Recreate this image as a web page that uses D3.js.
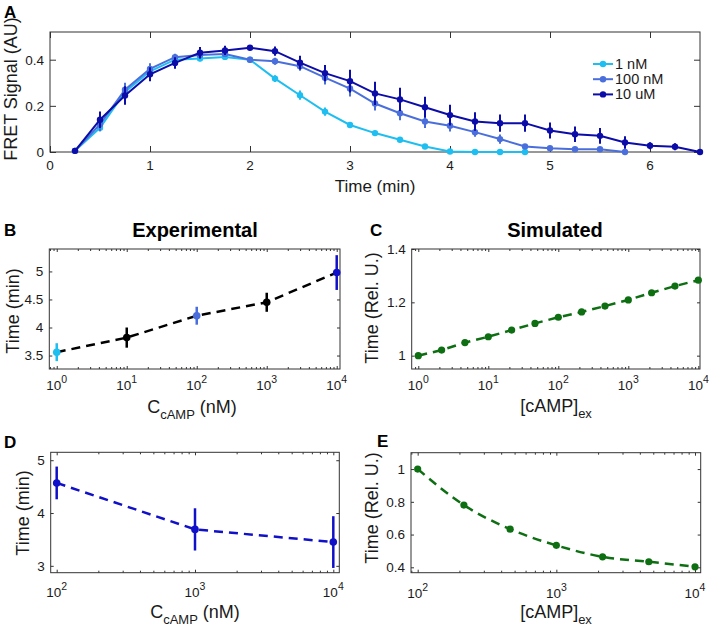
<!DOCTYPE html>
<html>
<head>
<meta charset="utf-8">
<script src="https://cdn.jsdelivr.net/npm/d3@7/dist/d3.min.js"></script>
<style>
  html, body { margin: 0; padding: 0; background: #fff; }
  svg { display: block; font-family: "Liberation Sans", Arial, Helvetica, sans-serif; }
</style>
</head>
<body>
<svg id="chart" width="709" height="630"></svg>
<script>
// ---------------- DATA ----------------
// Panel A: FRET signal time courses
const timeA1 = [0.25,0.5,0.75,1,1.25,1.5,1.75,2,2.25,2.5,2.75,3,3.25,3.5,3.75,4,4.25,4.5,4.75];
const fret1nM = [0.005,0.105,0.26,0.35,0.40,0.405,0.412,0.40,0.318,0.246,0.175,0.117,0.082,0.053,0.024,0.002,0,0,0];
const err1nM  = [0.005,0.015,0.02,0.02,0.015,0.012,0.01,0.01,0.015,0.02,0.018,0.012,0.01,0.008,0.006,0.003,0.002,0.002,0.002];

const timeA2 = [0.25,0.5,0.75,1,1.25,1.5,1.75,2,2.25,2.5,2.75,3,3.25,3.5,3.75,4,4.25,4.5,4.75,5,5.25,5.5,5.75];
const fret100nM = [0.005,0.12,0.27,0.36,0.411,0.42,0.425,0.40,0.393,0.372,0.322,0.275,0.21,0.168,0.132,0.114,0.086,0.056,0.024,0.016,0.012,0.012,0];
const err100nM  = [0.005,0.03,0.03,0.025,0.015,0.015,0.01,0.012,0.015,0.02,0.03,0.035,0.03,0.03,0.028,0.025,0.02,0.02,0.01,0.008,0.006,0.006,0.003];

const timeA3 = [0.25,0.5,0.75,1,1.25,1.5,1.75,2,2.25,2.5,2.75,3,3.25,3.5,3.75,4,4.25,4.5,4.75,5,5.25,5.5,5.75,6,6.25,6.5];
const fret10uM = [0.005,0.14,0.245,0.337,0.386,0.43,0.44,0.452,0.437,0.387,0.342,0.307,0.254,0.228,0.194,0.16,0.132,0.125,0.125,0.093,0.077,0.07,0.041,0.027,0.023,0];
const err10uM  = [0.005,0.036,0.04,0.03,0.025,0.025,0.02,0.01,0.02,0.03,0.035,0.049,0.05,0.05,0.045,0.045,0.04,0.037,0.037,0.035,0.034,0.034,0.027,0.015,0.015,0.003];

const legendLabels = ["1 nM", "100 nM", "10 uM"];
const xTicksA = [0,1,2,3,4,5,6];
const yTicksA = [0,0.2,0.4];

// Panel B: experimental
const concB = [1,10,100,1000,10000];
const timeB = [3.56,3.82,4.21,4.45,4.98];
const errB  = [0.16,0.18,0.16,0.17,0.31];
const yTicksB = [3.5,4,4.5,5];

// Panel C: simulated
const concC = [1,2.154,4.642,10,21.54,46.42,100,215.4,464.2,1000,2154,4642,10000];
const relC  = [1.0,1.021,1.049,1.071,1.096,1.121,1.144,1.164,1.186,1.209,1.236,1.261,1.283];
const yTicksC = [1,1.2,1.4];

// Panel D
const concD = [100,1000,10000];
const timeD = [4.57,3.69,3.45];
const errD  = [0.31,0.40,0.49];
const yTicksD = [3,4,5];

// Panel E
const concE = [100,215.4,464.2,1000,2154,4642,10000];
const relE  = [1.0,0.78,0.633,0.534,0.464,0.434,0.403];
const yTicksE = [0.4,0.6,0.8,1];

const decades04 = [1,10,100,1000,10000];
const decades24 = [100,1000,10000];

// ---------------- STYLE ----------------
const C_CYAN = "#1fbef0";
const C_MID  = "#4a6fdc";
const C_DARK = "#0c0ca8";
const C_BLUE = "#1010c8";
const C_GREEN = "#0d6e12";
const TXT = "#1a1a1a";
const FRAME = "#333";
const TICKFS = 13.5;

const svg = d3.select("#chart");

function makePanel(o) {
  const g = svg.append("g");
  const x = o.xlog ? d3.scaleLog().domain(o.xd).range([o.x0, o.x1])
                   : d3.scaleLinear().domain(o.xd).range([o.x0, o.x1]);
  const y = d3.scaleLinear().domain(o.yd).range([o.y1, o.y0]);
  const tl = o.tl;

  if (o.xlog) {
    const minors = [];
    const lo = Math.floor(Math.log10(o.xd[0])), hi = Math.ceil(Math.log10(o.xd[1]));
    for (let e = lo; e < hi; e++) for (let m = 2; m <= 9; m++) {
      const v = m * Math.pow(10, e);
      if (v > o.xd[0] && v < o.xd[1]) minors.push(v);
    }
    g.append("g").attr("transform", `translate(0,${o.y1})`)
      .call(d3.axisBottom(x).tickValues(minors).tickSize(-2).tickFormat(""))
      .call(s => s.select(".domain").remove())
      .call(s => s.selectAll("line").attr("stroke", FRAME));
    g.append("g").attr("transform", `translate(0,${o.y0})`)
      .call(d3.axisTop(x).tickValues(minors).tickSize(-2).tickFormat(""))
      .call(s => s.select(".domain").remove())
      .call(s => s.selectAll("line").attr("stroke", FRAME));
  }

  const bx = g.append("g").attr("transform", `translate(0,${o.y1})`)
    .call(d3.axisBottom(x).tickValues(o.xt).tickSize(-tl).tickFormat(() => ""));
  bx.select(".domain").remove();
  bx.selectAll("line").attr("stroke", FRAME);
  bx.selectAll("text").remove();
  const xlab = g.append("g").selectAll("text").data(o.xt).join("text")
    .attr("x", d => x(d)).attr("y", o.y1 + o.xlOff)
    .attr("text-anchor", "middle").attr("font-size", TICKFS).attr("fill", TXT);
  if (o.xlog) {
    xlab.each(function(d) {
      const t = d3.select(this);
      t.append("tspan").text("10");
      t.append("tspan").attr("font-size", 10.5).attr("dy", -7).text(Math.round(Math.log10(d)));
    });
  } else {
    xlab.text(d => d);
  }
  g.append("g").attr("transform", `translate(0,${o.y0})`)
    .call(d3.axisTop(x).tickValues(o.xt).tickSize(-tl).tickFormat(""))
    .call(s => s.select(".domain").remove())
    .call(s => s.selectAll("line").attr("stroke", FRAME));

  const ly = g.append("g").attr("transform", `translate(${o.x0},0)`)
    .call(d3.axisLeft(y).tickValues(o.yt).tickSize(-tl).tickPadding(6).tickFormat(o.yfmt));
  ly.select(".domain").remove();
  ly.selectAll("line").attr("stroke", FRAME);
  ly.selectAll("text").attr("font-size", TICKFS).attr("fill", TXT)
    .attr("font-family", "Liberation Sans, Arial, sans-serif");
  g.append("g").attr("transform", `translate(${o.x1},0)`)
    .call(d3.axisRight(y).tickValues(o.yt).tickSize(-tl).tickFormat(""))
    .call(s => s.select(".domain").remove())
    .call(s => s.selectAll("line").attr("stroke", FRAME));

  g.append("rect").attr("x", o.x0).attr("y", o.y0)
    .attr("width", o.x1 - o.x0).attr("height", o.y1 - o.y0)
    .attr("fill", "none").attr("stroke", FRAME).attr("stroke-width", 1);

  svg.append("text").attr("x", o.letterX).attr("y", o.letterY)
    .attr("font-size", 17).attr("font-weight", "bold").attr("fill", "#000").text(o.letter);

  return { g, x, y };
}

function subLabel(x, y, main, sub, rest) {
  const t = svg.append("text").attr("x", x).attr("y", y).attr("text-anchor", "middle")
    .attr("font-size", 18).attr("fill", TXT);
  t.append("tspan").text(main);
  t.append("tspan").attr("font-size", 13).attr("dy", 6).text(sub);
  if (rest) t.append("tspan").attr("dy", -6).text(rest);
  return t;
}

function yLabel(x, y, text) {
  svg.append("text").attr("transform", `translate(${x},${y}) rotate(-90)`)
    .attr("text-anchor", "middle").attr("dominant-baseline", "central")
    .attr("font-size", 18).attr("fill", TXT).text(text);
}

// ---------------- PANEL A ----------------
{
  const p = makePanel({ x0: 50, x1: 700, y0: 32, y1: 152, xd: [0, 6.5], yd: [0, 0.52],
    xt: xTicksA, yt: yTicksA, yfmt: d => d === 0 ? "0" : d3.format(".1f")(d), tl: 6, xlOff: 18,
    letter: "A", letterX: 4, letterY: 18 });
  const series = [
    { t: timeA1, v: fret1nM, e: err1nM, c: C_CYAN },
    { t: timeA2, v: fret100nM, e: err100nM, c: C_MID },
    { t: timeA3, v: fret10uM, e: err10uM, c: C_DARK }
  ];
  series.forEach(s => {
    const pts = s.t.map((t, i) => ({ t, v: s.v[i], e: s.e[i] }));
    p.g.append("path").datum(pts).attr("fill", "none").attr("stroke", s.c).attr("stroke-width", 2)
      .attr("d", d3.line().x(d => p.x(d.t)).y(d => p.y(d.v)));
    p.g.append("g").selectAll("line").data(pts).join("line")
      .attr("x1", d => p.x(d.t)).attr("x2", d => p.x(d.t))
      .attr("y1", d => p.y(d.v - d.e)).attr("y2", d => p.y(d.v + d.e))
      .attr("stroke", s.c).attr("stroke-width", 2);
    p.g.append("g").selectAll("circle").data(pts).join("circle")
      .attr("cx", d => p.x(d.t)).attr("cy", d => p.y(d.v)).attr("r", 3.2).attr("fill", s.c);
  });
  const lg = svg.append("g");
  legendLabels.forEach((lab, i) => {
    const yy = 64 + i * 15.2;
    const c = series[i].c;
    lg.append("line").attr("x1", 593).attr("x2", 613).attr("y1", yy).attr("y2", yy)
      .attr("stroke", c).attr("stroke-width", 2);
    lg.append("circle").attr("cx", 603).attr("cy", yy).attr("r", 3.2).attr("fill", c);
    lg.append("text").attr("x", 615).attr("y", yy).attr("dominant-baseline", "central")
      .attr("font-size", 14.5).attr("fill", TXT).text(lab);
  });
  svg.append("text").attr("x", 375).attr("y", 192).attr("text-anchor", "middle")
    .attr("font-size", 17).attr("fill", TXT).text("Time (min)");
  yLabel(11, 89, "FRET Signal (AU)");
}

// ---------------- PANEL B ----------------
{
  const p = makePanel({ x0: 49.3, x1: 340, y0: 249, y1: 369, xlog: true, xd: [0.783, 11140], yd: [3.26, 5.4],
    xt: decades04, yt: yTicksB, yfmt: d3.format(""), tl: 3, xlOff: 21,
    letter: "B", letterX: 4, letterY: 236 });
  const colorsB = [C_CYAN, "#000", C_MID, "#000", C_BLUE];
  const pts = concB.map((c, i) => ({ c, v: timeB[i], e: errB[i], col: colorsB[i] }));
  p.g.append("path").datum(pts).attr("fill", "none").attr("stroke", "#000").attr("stroke-width", 2.5)
    .attr("stroke-dasharray", "9,6").attr("d", d3.line().x(d => p.x(d.c)).y(d => p.y(d.v)));
  p.g.append("g").selectAll("line").data(pts).join("line")
    .attr("x1", d => p.x(d.c)).attr("x2", d => p.x(d.c))
    .attr("y1", d => p.y(d.v - d.e)).attr("y2", d => p.y(d.v + d.e))
    .attr("stroke", d => d.col).attr("stroke-width", 2.5);
  p.g.append("g").selectAll("circle").data(pts).join("circle")
    .attr("cx", d => p.x(d.c)).attr("cy", d => p.y(d.v)).attr("r", 3.8).attr("fill", d => d.col);
  svg.append("text").attr("x", 195).attr("y", 237).attr("text-anchor", "middle")
    .attr("font-size", 20).attr("font-weight", "bold").attr("fill", "#000").text("Experimental");
  subLabel(192, 413, "C", "cAMP", " (nM)");
  yLabel(13, 311, "Time (min)");
}

// ---------------- PANEL C ----------------
{
  const p = makePanel({ x0: 411.7, x1: 700, y0: 249, y1: 369, xlog: true, xd: [0.805, 10570], yd: [0.95, 1.4],
    xt: decades04, yt: yTicksC, yfmt: d => d === 1 ? "1" : d3.format(".1f")(d), tl: 3, xlOff: 21,
    letter: "C", letterX: 370, letterY: 236 });
  const pts = concC.map((c, i) => ({ c, v: relC[i] }));
  p.g.append("path").datum(pts).attr("fill", "none").attr("stroke", C_GREEN).attr("stroke-width", 2.5)
    .attr("stroke-dasharray", "9,6").attr("d", d3.line().x(d => p.x(d.c)).y(d => p.y(d.v)));
  p.g.append("g").selectAll("circle").data(pts).join("circle")
    .attr("cx", d => p.x(d.c)).attr("cy", d => p.y(d.v)).attr("r", 3.6).attr("fill", C_GREEN);
  svg.append("text").attr("x", 555).attr("y", 237).attr("text-anchor", "middle")
    .attr("font-size", 20).attr("font-weight", "bold").attr("fill", "#000").text("Simulated");
  subLabel(556, 412, "[cAMP]", "ex", null);
  yLabel(372, 308, "Time (Rel. U.)");
}

// ---------------- PANEL D ----------------
{
  const p = makePanel({ x0: 50.7, x1: 339.3, y0: 452.3, y1: 572.7, xlog: true, xd: [90.5, 11050], yd: [2.87, 5.15],
    xt: decades24, yt: yTicksD, yfmt: d3.format(""), tl: 3, xlOff: 24,
    letter: "D", letterX: 4, letterY: 448 });
  const pts = concD.map((c, i) => ({ c, v: timeD[i], e: errD[i] }));
  p.g.append("path").datum(pts).attr("fill", "none").attr("stroke", C_BLUE).attr("stroke-width", 2.5)
    .attr("stroke-dasharray", "9,6").attr("d", d3.line().x(d => p.x(d.c)).y(d => p.y(d.v)));
  p.g.append("g").selectAll("line").data(pts).join("line")
    .attr("x1", d => p.x(d.c)).attr("x2", d => p.x(d.c))
    .attr("y1", d => p.y(d.v - d.e)).attr("y2", d => p.y(d.v + d.e))
    .attr("stroke", C_BLUE).attr("stroke-width", 2.5);
  p.g.append("g").selectAll("circle").data(pts).join("circle")
    .attr("cx", d => p.x(d.c)).attr("cy", d => p.y(d.v)).attr("r", 3.8).attr("fill", C_BLUE);
  subLabel(195, 618, "C", "cAMP", " (nM)");
  yLabel(23, 513, "Time (min)");
}

// ---------------- PANEL E ----------------
{
  const p = makePanel({ x0: 411, x1: 700.7, y0: 452.7, y1: 572.7, xlog: true, xd: [89.5, 10990], yd: [0.367, 1.1],
    xt: decades24, yt: yTicksE, yfmt: d => d === 1 ? "1" : d3.format(".1f")(d), tl: 3, xlOff: 25,
    letter: "E", letterX: 377, letterY: 447 });
  const pts = concE.map((c, i) => ({ c, v: relE[i] }));
  p.g.append("path").datum(pts).attr("fill", "none").attr("stroke", C_GREEN).attr("stroke-width", 2.5)
    .attr("stroke-dasharray", "9,6").attr("d", d3.line().curve(d3.curveMonotoneX).x(d => p.x(d.c)).y(d => p.y(d.v)));
  p.g.append("g").selectAll("circle").data(pts).join("circle")
    .attr("cx", d => p.x(d.c)).attr("cy", d => p.y(d.v)).attr("r", 3.6).attr("fill", C_GREEN);
  subLabel(556, 618, "[cAMP]", "ex", null);
  yLabel(372, 508, "Time (Rel. U.)");
}
</script>
</body>
</html>
